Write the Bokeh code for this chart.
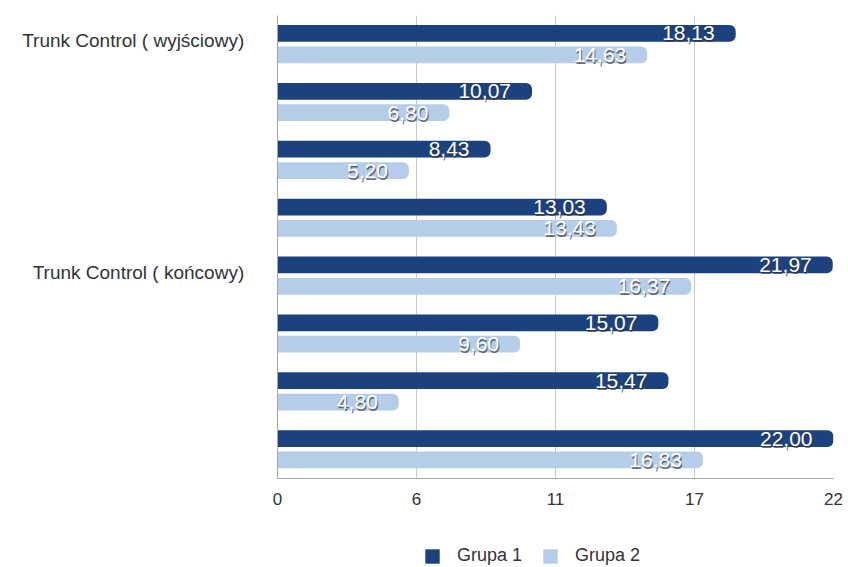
from bokeh.plotting import figure
from bokeh.layouts import column
from bokeh.models import ColumnDataSource, Range1d, FixedTicker, Legend, LegendItem
from bokeh.core.properties import value
from bokeh.embed import file_html
from bokeh.resources import INLINE

# ---- data ----
row_labels = ["Trunk  Control ( wyjściowy)", "", "", "", "Trunk  Control ( końcowy)", "", "", ""]
grupa1 = [18.13, 10.07, 8.43, 13.03, 21.97, 15.07, 15.47, 22.00]
grupa2 = [14.63, 6.80, 5.20, 13.43, 16.37, 9.60, 4.80, 16.83]
series_names = ["Grupa 1", "Grupa 2"]
x_ticks = [0, 5.5, 11, 16.5, 22]
x_tick_labels = ["0", "6", "11", "17", "22"]

DARK = "#1b427f"
LIGHT = "#b5cde8"
FONT = "Liberation Sans"

def fmt(v):
    return f"{v:.2f}".replace(".", ",")

idx = list(range(len(grupa1)))
s1 = ColumnDataSource(dict(y=[i - 0.19 for i in idx], x=grupa1, t=[fmt(v) for v in grupa1]))
s2 = ColumnDataSource(dict(y=[i + 0.18 for i in idx], x=grupa2, t=[fmt(v) for v in grupa2]))

p = figure(width=848, height=520, output_backend="svg", toolbar_location=None,
           x_range=Range1d(0, 22), y_range=Range1d(7.5, -0.5),
           min_border_left=277, min_border_right=15, min_border_top=15, min_border_bottom=42)
p.outline_line_color = None
p.background_fill_color = "white"

r1 = p.hbar(y="y", right="x", left=0, height=0.29, source=s1, fill_color=DARK, line_color=None,
            border_radius=(0, 6, 6, 0))
r2 = p.hbar(y="y", right="x", left=0, height=0.29, source=s2, fill_color=LIGHT, line_color=None,
            border_radius=(0, 6, 6, 0))

for src in (s1, s2):
    p.text(x="x", y="y", text="t", source=src, x_offset=-20, y_offset=2, text_align="right",
           text_baseline="middle", text_color="#333333", text_alpha=0.7,
           text_font=value(FONT), text_font_size="21px")
    p.text(x="x", y="y", text="t", source=src, x_offset=-21, y_offset=0, text_align="right",
           text_baseline="middle", text_color="white",
           text_font=value(FONT), text_font_size="21px")

# x axis
p.xaxis.ticker = FixedTicker(ticks=x_ticks)
p.xaxis.major_label_overrides = {t: l for t, l in zip(x_ticks, x_tick_labels)}
p.xaxis.major_tick_line_color = None
p.xaxis.minor_tick_line_color = None
p.xaxis.axis_line_color = "#a6a6a6"
p.xaxis.major_label_text_font = FONT
p.xaxis.major_label_text_font_size = "17px"
p.xaxis.major_label_text_color = "#333333"
p.xaxis.major_label_standoff = 8

# y axis
p.yaxis.ticker = FixedTicker(ticks=[-0.06, 3.94])
p.yaxis.major_label_overrides = {-0.06: row_labels[0], 3.94: row_labels[4]}
p.yaxis.major_tick_line_color = None
p.yaxis.minor_tick_line_color = None
p.yaxis.axis_line_color = "#a6a6a6"
p.yaxis.major_label_text_font = FONT
p.yaxis.major_label_text_font_size = "19px"
p.yaxis.major_label_text_color = "#333333"
p.yaxis.major_label_standoff = 22

p.ygrid.grid_line_color = None
p.xgrid.ticker = FixedTicker(ticks=x_ticks)
p.xgrid.grid_line_color = "#c8c8c8"

# legend in a strip below (its renderers sit outside the strip's visible range)
lg = figure(width=848, height=47, output_backend="svg", toolbar_location=None,
            x_axis_type=None, y_axis_type=None, x_range=Range1d(0, 22), y_range=Range1d(100, 101),
            min_border=0)
lg.outline_line_color = None
lg.grid.grid_line_color = None
d1 = lg.hbar(y="y", right="x", left=0, height=0.29, source=s1, fill_color=DARK, line_color=None)
d2 = lg.hbar(y="y", right="x", left=0, height=0.29, source=s2, fill_color=LIGHT, line_color=None)
legend = Legend(items=[LegendItem(label=series_names[0], renderers=[d1]),
                       LegendItem(label=series_names[1], renderers=[d2])],
                orientation="horizontal", location=(146, 1),
                glyph_width=18, glyph_height=18, label_standoff=16, spacing=19,
                label_text_font=FONT, label_text_font_size="18px", label_text_color="#333333",
                border_line_color=None, background_fill_alpha=0, padding=0, margin=0)
lg.add_layout(legend, "center")

layout = column(p, lg, spacing=0)
open("out.html", "w").write(file_html(layout, INLINE))
